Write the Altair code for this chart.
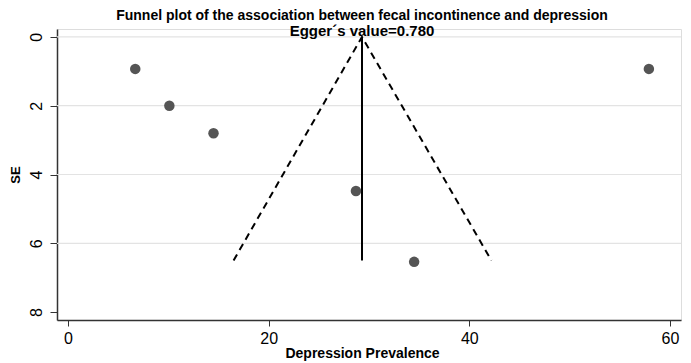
import altair as alt
import pandas as pd

# Study-level data
prevalence = [6.7, 10.1, 14.5, 28.7, 34.5, 57.9]
se = [0.93, 2.0, 2.8, 4.48, 6.54, 0.93]

# Pooled estimate and pseudo 95% confidence limits
pooled = 29.3
se_max = 6.5
ci_left = 16.5
ci_right = 42.2

x_ticks = [0, 20, 40, 60]
y_ticks = [0, 2, 4, 6, 8]
grid_vals = [0, 2, 4, 6]

points_df = pd.DataFrame({"prev": prevalence, "se": se})
funnel_df = pd.DataFrame({"prev": [ci_left, pooled, ci_right],
                          "se": [se_max, 0, se_max],
                          "order": [0, 1, 2]})
vline_df = pd.DataFrame({"prev": [pooled, pooled], "se": [0, se_max], "order": [0, 1]})
grid_df = pd.DataFrame({"g": grid_vals})

FONT = "Liberation Sans"
x_scale = alt.Scale(domain=[-1.1, 61.1], nice=False, zero=False)
y_scale = alt.Scale(domain=[-0.23, 8.23], reverse=True, nice=False, zero=False)

x_axis = alt.Axis(values=x_ticks, title="Depression Prevalence", grid=False,
                  labelFont=FONT, labelFontSize=16, labelColor="#000",
                  titleFont=FONT, titleFontSize=14, titleFontWeight="bold", titleColor="#000",
                  domainColor="#333", domainWidth=1.5, tickColor="#333", tickSize=6,
                  labelPadding=4, titlePadding=0, titleX=305, labelFlush=False)
y_axis = alt.Axis(values=y_ticks, title="SE", grid=False,
                  labelFont=FONT, labelFontSize=16, labelColor="#000",
                  labelAngle=270, labelAlign="center", labelBaseline="bottom",
                  titleFont=FONT, titleFontSize=13, titleFontWeight="bold", titleColor="#000",
                  domainColor="#333", domainWidth=1.5, tickColor="#333", tickSize=7,
                  labelPadding=6, titlePadding=6, labelFlush=False)

grid = alt.Chart(grid_df).mark_rule(color="#e3e3e3", strokeWidth=1.2).encode(
    y=alt.Y("g:Q", scale=y_scale, axis=y_axis)
)

points = alt.Chart(points_df).mark_circle(size=110, color="#555555", opacity=1).encode(
    x=alt.X("prev:Q", scale=x_scale, axis=x_axis),
    y=alt.Y("se:Q", scale=y_scale),
)

funnel = alt.Chart(funnel_df).mark_line(color="#000", strokeWidth=2, strokeDash=[7, 5]).encode(
    x=alt.X("prev:Q", scale=x_scale),
    y=alt.Y("se:Q", scale=y_scale),
    order="order:Q",
)

vline = alt.Chart(vline_df).mark_line(color="#000", strokeWidth=2).encode(
    x=alt.X("prev:Q", scale=x_scale),
    y=alt.Y("se:Q", scale=y_scale),
    order="order:Q",
)

chart = alt.layer(grid, funnel, vline, points).properties(
    width=624, height=291,
    autosize=alt.AutoSizeParams(type="none"),
    padding={"left": 57, "top": 29, "right": 10, "bottom": 43},
    title=alt.TitleParams(
        text="Funnel plot of the association between fecal incontinence and depression",
        subtitle="Egger´s value=0.780",
        font=FONT, fontSize=14, fontWeight="bold", color="#000",
        subtitleFont=FONT, subtitleFontSize=15, subtitleFontWeight="bold", subtitleColor="#000",
        subtitlePadding=1, anchor="middle", offset=-10, dx=-7,
    ),
).configure_view(stroke=None).configure(background="white")

chart.save("out.html", embed_options={"renderer": "svg", "actions": False})
